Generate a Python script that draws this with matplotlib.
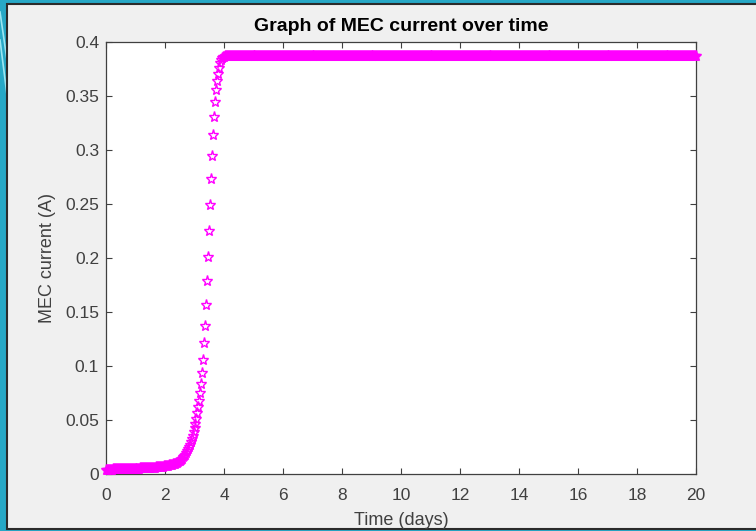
import matplotlib.pyplot as plt
import numpy as np
from matplotlib.patches import Rectangle
from matplotlib.lines import Line2D

# simulation output is sampled every 1/30 day from 0 to 20 days
TIME_STEP = 1 / 30
T_END = 20

# MEC current (A), one value per sample, t = 0 .. 4 days
CURRENT_RISE = [
    0.0040, 0.0040, 0.0040, 0.0041, 0.0041, 0.0041, 0.0041, 0.0042, 0.0042, 0.0042,
    0.0042, 0.0043, 0.0043, 0.0043, 0.0043, 0.0044, 0.0044, 0.0044, 0.0045, 0.0045,
    0.0045, 0.0045, 0.0046, 0.0046, 0.0046, 0.0047, 0.0047, 0.0047, 0.0048, 0.0048,
    0.0048, 0.0049, 0.0049, 0.0050, 0.0050, 0.0051, 0.0051, 0.0052, 0.0052, 0.0053,
    0.0053, 0.0054, 0.0054, 0.0055, 0.0056, 0.0056, 0.0057, 0.0058, 0.0058, 0.0059,
    0.0060, 0.0061, 0.0062, 0.0062, 0.0063, 0.0064, 0.0065, 0.0067, 0.0068, 0.0070,
    0.0072, 0.0074, 0.0076, 0.0078, 0.0080, 0.0082, 0.0084, 0.0086, 0.0089, 0.0093,
    0.0096, 0.0101, 0.0106, 0.0111, 0.0118, 0.0125, 0.0134, 0.0143, 0.0153, 0.0165,
    0.0178, 0.0193, 0.0209, 0.0227, 0.0246, 0.0269, 0.0292, 0.0320, 0.0353, 0.0385,
    0.0422, 0.0464, 0.0510, 0.0561, 0.0617, 0.0677, 0.0751, 0.0835, 0.0937, 0.1058,
    0.1215, 0.1373, 0.1568, 0.1790, 0.2013, 0.2254, 0.2495, 0.2727, 0.2941, 0.3135,
    0.3302, 0.3442, 0.3553, 0.3636, 0.3701, 0.3757, 0.3803, 0.3831, 0.3850, 0.3859,
    0.3865,
]
# steady-state current after day 4
PLATEAU_CURRENT = 0.387

X_TICKS = [0, 2, 4, 6, 8, 10, 12, 14, 16, 18, 20]
Y_TICKS = [0, 0.05, 0.1, 0.15, 0.2, 0.25, 0.3, 0.35, 0.4]
Y_TICK_LABELS = ["0", "0.05", "0.1", "0.15", "0.2", "0.25", "0.3", "0.35", "0.4"]

plt.rcParams["font.family"] = ["Liberation Sans", "DejaVu Sans"]

W, H = 756, 531
fig = plt.figure(figsize=(W / 100, H / 100), dpi=100, facecolor="#27a8c6")

# grey MATLAB figure window sitting on the slide background
fig.patches.append(Rectangle((7 / W, 2 / H), 1.0, 1 - 6 / H, transform=fig.transFigure,
                             facecolor="#f0f0f0", edgecolor="#2b2b2b", lw=1.5, zorder=-2))
for x0, y0, x1, y1 in [(0, 12, 7, 60), (0, 40, 7, 95)]:
    fig.lines.append(Line2D([x0 / W, x1 / W], [1 - y0 / H, 1 - y1 / H], transform=fig.transFigure,
                            color="#9be6f2", lw=1.2, zorder=-2))

ax = fig.add_axes([106 / W, 1 - 474 / H, 590 / W, 432 / H])
ax.set_facecolor("white")

time = np.arange(0, T_END + TIME_STEP / 2, TIME_STEP)
current = np.concatenate([CURRENT_RISE, np.full(len(time) - len(CURRENT_RISE), PLATEAU_CURRENT)])

ax.plot(time, current, linestyle="none", marker="*", markersize=8,
        markerfacecolor="none", markeredgecolor="#ff00ff", markeredgewidth=1.0,
        clip_on=False, zorder=3)

ax.set_xlim(0, 20)
ax.set_ylim(0, 0.4)
ax.set_xticks(X_TICKS)
ax.set_yticks(Y_TICKS)
ax.set_yticklabels(Y_TICK_LABELS)

ax.tick_params(direction="in", top=True, right=True, length=4, width=0.8,
               color="#404040", labelcolor="#404040", labelsize=12.5)
ax.tick_params(axis="x", pad=10)
ax.tick_params(axis="y", pad=5)
for spine in ax.spines.values():
    spine.set_color("#404040")
    spine.set_linewidth(0.9)

ax.set_title("Graph of MEC current over time", fontsize=14, fontweight="bold", pad=8)
ax.set_xlabel("Time (days)", fontsize=13, color="#404040")
ax.set_ylabel("MEC current (A)", fontsize=13, color="#404040")
ax.xaxis.set_label_coords(0.5, -0.088)
ax.yaxis.set_label_coords(-0.085, 0.5)

fig.savefig("out.png", dpi=100, facecolor=fig.get_facecolor())
